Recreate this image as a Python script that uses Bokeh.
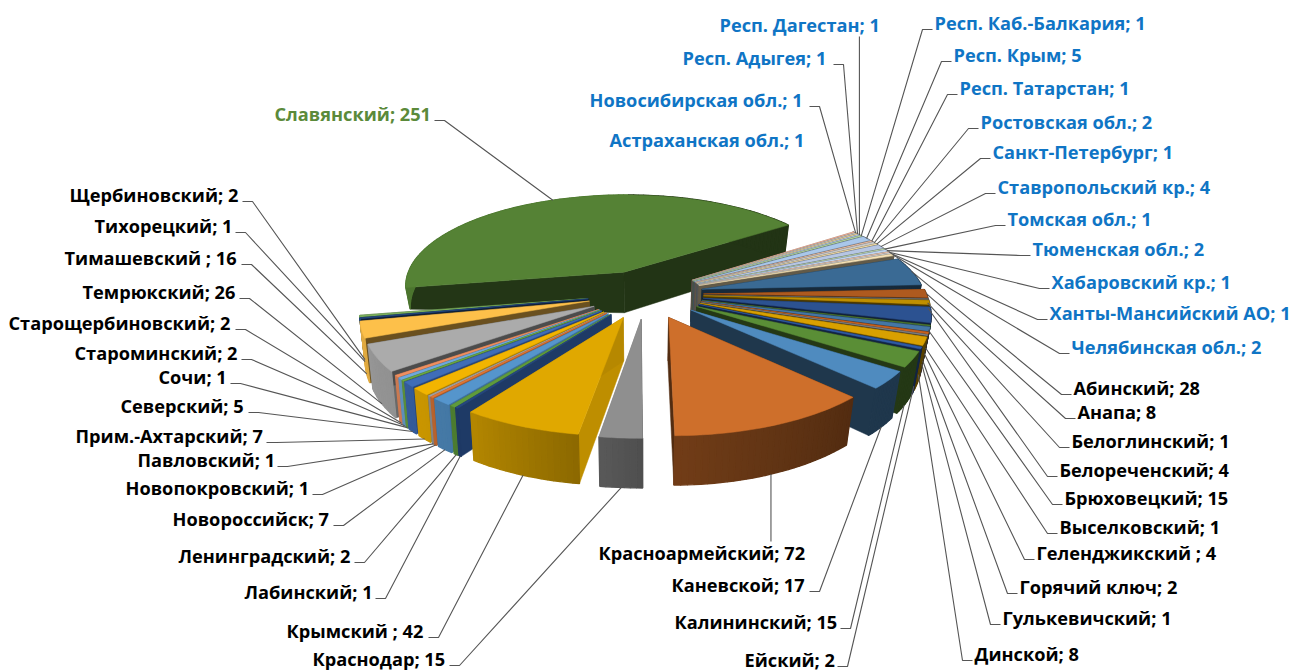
import numpy as np
from bokeh.plotting import figure
from bokeh.models import Range1d
from bokeh.core.properties import value
from bokeh.embed import file_html
from bokeh.resources import INLINE

names = ["Абинский; 28","Анапа; 8","Белоглинский; 1","Белореченский; 4","Брюховецкий; 15","Выселковский; 1",
 "Геленджикский ; 4","Горячий ключ; 2","Гулькевичский; 1","Динской; 8","Ейский; 2","Калининский; 15",
 "Каневской; 17","Красноармейский; 72","Краснодар; 15","Крымский ; 42","Лабинский; 1","Ленинградский; 2",
 "Новороссийск; 7","Новопокровский; 1","Павловский; 1","Прим.-Ахтарский; 7","Северский; 5","Сочи; 1",
 "Староминский; 2","Старощербиновский; 2","Темрюкский; 26","Тимашевский ; 16","Тихорецкий; 1","Щербиновский; 2",
 "Славянский; 251","Астраханская обл.; 1","Новосибирская обл.; 1","Респ. Адыгея; 1","Респ. Дагестан; 1",
 "Респ. Каб.-Балкария; 1","Респ. Крым; 5","Респ. Татарстан; 1","Ростовская обл.; 2","Санкт-Петербург; 1",
 "Ставропольский кр.; 4","Томская обл.; 1","Тюменская обл.; 2","Хабаровский кр.; 1","Ханты-Мансийский АО; 1",
 "Челябинская обл.; 2"]
values = [28,8,1,4,15,1,4,2,1,8,2,15,17,72,15,42,1,2,7,1,1,7,5,1,2,2,26,16,1,2,251,1,1,1,1,1,5,1,2,1,4,1,2,1,1,2]
colors = ["#3A6A94","#AE5A1F","#6A6A6A","#BF8F00","#2C5291","#4A7530","#4477A6","#C4611F","#7F7F7F","#D9A000",
 "#2F5AA5","#5A8E36","#4F8BBF","#CE6F2B","#8F8F8F","#E0A800","#26487F","#5F9B3C","#5595CC","#E07838","#A0A0A0",
 "#F2B400","#3F6DB8","#6BA845","#6FA8DC","#EE8F60","#ABABAB","#FDC04A","#254A85","#7AAE5C","#558235",
 "#F6B49A","#C5C5C5","#F2D79B","#B3C6E7","#B5D6A0","#A9C7EA","#F4C5A8","#C9C9C9","#F4DFA8","#B6C6E4","#BFD9AE",
 "#BDD3EE","#F7CDB5","#D2D2D2","#F6E2B6"]
label_x0 = [1073,1077,1071,1059,1064,1059,1036,1019,1002,974,744,674,671,598,312,286,244,178,172,125,137,75,120,158,74,8,82,64,94,69,274,609,589,682,719,934,953,959,980,992,997,1007,1032,1051,1049,1071]
label_x1 = [1210,1156,1227,1228,1229,1221,1228,1174,1169,1080,833,836,805,807,445,424,371,350,329,308,273,262,244,226,237,231,235,237,231,238,430,806,805,829,881,1151,1131,1130,1154,1173,1210,1156,1208,1231,1291,1263]
label_y = [388,412,441,470,498,527,553,587,618,654,660,622,585,553,659,631,592,556,519,488,460,436,406,377,353,323,292,258,226,195,114,140,100,58,25,23,55,88,122,152,187,219,249,282,313,347]
no_leader = ["Астраханская обл.; 1"]

CX, CY, R, K, P, EXPL, FIRST = 645.0, 293.5, 223.0, 94.0, 0.143, 0.26, 70.0
MX_LEFT, MX_RIGHT = 0.982, 0.968

def face(X, Y):
    s = 1.0 / (1.0 - P * Y)
    return CX + R * X * s, CY + K * Y * s

def height(X, Y):
    drop = 20.0 * np.clip((0.15 - Y) / 0.2, 0, 1) * np.clip((-X - 0.8) / 0.2, 0, 1)
    return 42.0 + 6.0 * Y - drop

def bottom(X, Y):
    x, y = face(X, Y)
    return CX + (x - CX) * np.where(x < CX, MX_LEFT, MX_RIGHT), y + height(X, Y)

def shade(hexcol, f):
    r, g, b = (int(hexcol[i:i + 2], 16) for i in (1, 3, 5))
    return "#%02X%02X%02X" % (int(r * f), int(g * f), int(b * f))

def outer_f(t):
    return float(np.interp((t % 360), [0, 135, 179, 188, 214, 232, 260, 360], [.4, .4, .55, .62, .8, .85, .9, .9]))

def edge_f(t):
    t = t % 360
    if t < 185:
        return 0.40
    return float(np.clip(0.45 + (248 - t) * 0.0109, 0.42, 0.85))

total = sum(values)
edges = FIRST + np.concatenate([[0], np.cumsum(values)]) * 360.0 / total
slices = []
for i, v in enumerate(values):
    a, b = edges[i], edges[i + 1]
    m = np.radians((a + b) / 2)
    ox, oy = EXPL * np.sin(m), -EXPL * np.cos(m)
    slices.append((i, a, b, ox, oy))
order = sorted(slices, key=lambda q: -np.cos(np.radians((q[1] + q[2]) / 2)))

fig_xs, fig_ys, fig_c, fig_w = [], [], [], []
def add(xs, ys, c, w=0.5):
    fig_xs.append([float(v) for v in xs])
    fig_ys.append([float(v) for v in ys])
    fig_c.append(c)
    fig_w.append(w)

for i, a, b, ox, oy in order:
    th = np.radians(np.linspace(a, b, max(3, int((b - a) / 1.5) + 2)))
    X = ox + np.sin(th)
    Y = oy - np.cos(th)
    tx, ty = face(X, Y)
    bx, by = bottom(X, Y)
    ax, ay = face(np.array([ox]), np.array([oy]))
    abx, aby = bottom(np.array([ox]), np.array([oy]))
    col = colors[i]
    add([ax[0], tx[0], bx[0], abx[0]], [ay[0], ty[0], by[0], aby[0]], shade(col, edge_f(a)))
    add([ax[0], tx[-1], bx[-1], abx[0]], [ay[0], ty[-1], by[-1], aby[0]], shade(col, edge_f(b)))
    degs = np.linspace(a, b, len(th))
    for j in range(len(th) - 1):
        add([tx[j], tx[j + 1], bx[j + 1], bx[j]], [ty[j], ty[j + 1], by[j + 1], by[j]], shade(col, outer_f((degs[j] + degs[j + 1]) / 2)), 1.4)
    add(np.concatenate([ax, tx]), np.concatenate([ay, ty]), col)

W, H = 1301, 670
p = figure(width=W, height=H, x_range=Range1d(0, W), y_range=Range1d(H, 0),
           toolbar_location=None, output_backend="svg", min_border=0)
p.axis.visible = False
p.grid.visible = False
p.outline_line_color = None
p.patches(fig_xs, fig_ys, fill_color=fig_c, line_color=fig_c, line_width=fig_w)

lx, ly = [], []
for i, a, b, ox, oy in slices:
    if names[i] in no_leader:
        continue
    m = np.radians((a + b) / 2)
    X, Y = ox + np.sin(m), oy - np.cos(m)
    tx, ty = face(X, Y)
    bx, by = bottom(X, Y)
    if np.sin(m) < 0:
        fr = 1.0 if np.cos(m) < 0 else 0.0
    else:
        fr = float(np.clip(-2 * np.cos(m), 0, 1))
    gx, gy = tx + (bx - tx) * fr, ty + (by - ty) * fr
    x0, x1, y = label_x0[i], label_x1[i], label_y[i]
    if x0 < gx < x1:
        sy = y - 12 if gy < y else y + 11
        lx.append([gx, gx]); ly.append([sy, gy])
    elif x1 < gx:
        lx.append([x1 + 4, x1 + 14, gx]); ly.append([y + 6, y + 6, gy])
    else:
        lx.append([x0 - 2, x0 - 12, gx]); ly.append([y + 6, y + 6, gy])
lx = [[float(v) for v in q] for q in lx]
ly = [[float(v) for v in q] for q in ly]
p.multi_line(lx, ly, line_color="#555555", line_width=1.1)

tcol = ["#000000"] * 30 + ["#5B8A3A"] + ["#0F75C5"] * 15
p.text(label_x0, [y - 1 for y in label_y], text=names, text_color=tcol, text_font=value("Open Sans"), text_font_style="bold",
       text_font_size="18.2px", text_baseline="middle", text_align="left")

open("out.html", "w").write(file_html(p, INLINE))
